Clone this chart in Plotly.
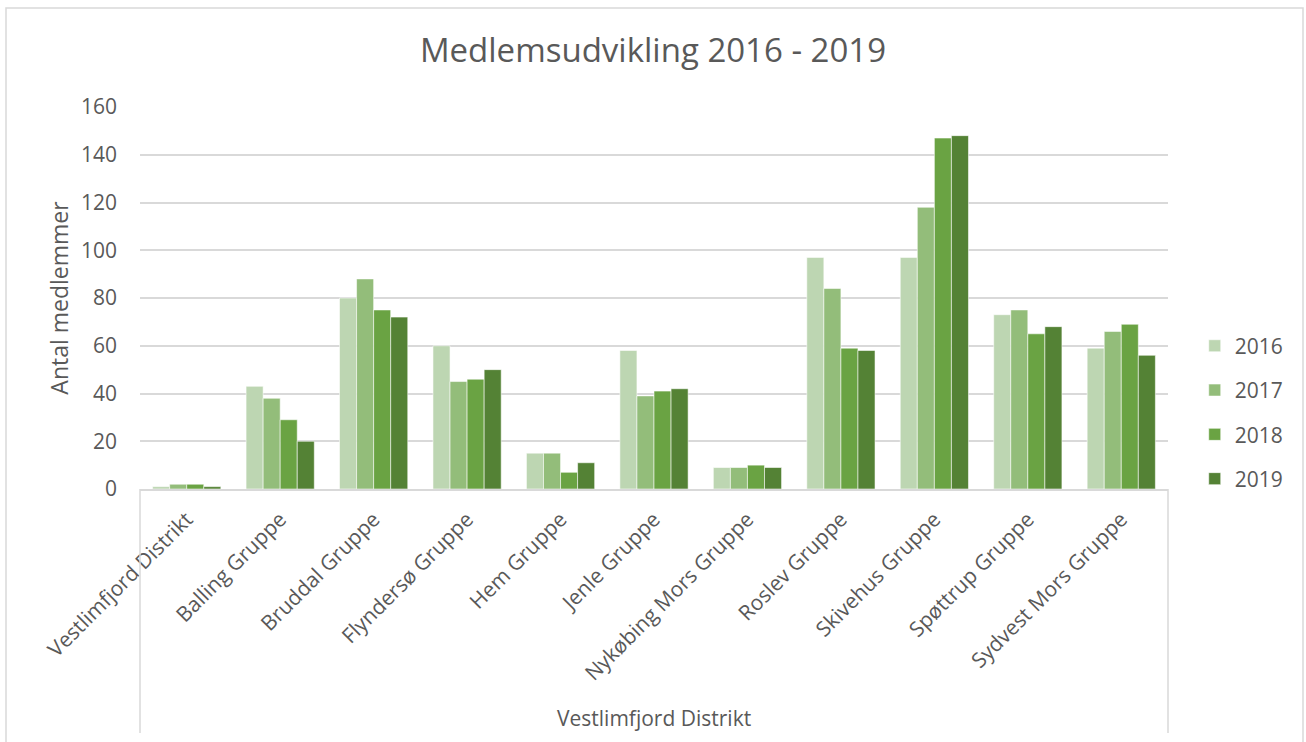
import plotly.graph_objects as go

CATEGORIES = [
    "Vestlimfjord Distrikt",
    "Balling Gruppe",
    "Bruddal Gruppe",
    "Flyndersø Gruppe",
    "Hem Gruppe",
    "Jenle Gruppe",
    "Nykøbing Mors Gruppe",
    "Roslev Gruppe",
    "Skivehus Gruppe",
    "Spøttrup Gruppe",
    "Sydvest Mors Gruppe",
]
YEARS = ["2016", "2017", "2018", "2019"]
VALUES_2016 = [1, 43, 80, 60, 15, 58, 9, 97, 97, 73, 59]
VALUES_2017 = [2, 38, 88, 45, 15, 39, 9, 84, 118, 75, 66]
VALUES_2018 = [2, 29, 75, 46, 7, 41, 10, 59, 147, 65, 69]
VALUES_2019 = [1, 20, 72, 50, 11, 42, 9, 58, 148, 68, 56]
Y_TICKS = [0, 20, 40, 60, 80, 100, 120, 140, 160]
GROUP_LABEL = "Vestlimfjord Distrikt"
TITLE = "Medlemsudvikling 2016 - 2019"
Y_TITLE = "Antal medlemmer"

SERIES = [VALUES_2016, VALUES_2017, VALUES_2018, VALUES_2019]
COLORS = ["#BDD6B2", "#93BD7A", "#6AA343", "#548235"]
TEXT_COLOR = "#595959"
GRID_COLOR = "#D9D9D9"
FONT = "Open Sans"

fig = go.Figure()
for year, vals, color in zip(YEARS, SERIES, COLORS):
    fig.add_trace(
        go.Bar(
            x=CATEGORIES,
            y=vals,
            name=year,
            legendgroup=year,
            marker=dict(color=color, line=dict(color="rgba(255,255,255,0.55)", width=1)),
        )
    )

fig.update_layout(
    width=1306,
    height=742,
    barmode="group",
    bargap=0.27,
    bargroupgap=0,
    paper_bgcolor="white",
    plot_bgcolor="white",
    font=dict(family=FONT, color=TEXT_COLOR, size=20),
    margin=dict(l=140, r=138, t=107, b=253),
    title=dict(
        text=TITLE,
        x=0.5,
        xanchor="center",
        y=(742 - 50) / 742,
        yanchor="middle",
        font=dict(size=33, color=TEXT_COLOR, family=FONT),
    ),
    legend=dict(
        x=1.026,
        xanchor="left",
        y=0.2,
        yanchor="middle",
        font=dict(size=21, color=TEXT_COLOR),
        tracegroupgap=14,
        itemwidth=30,
        bgcolor="rgba(0,0,0,0)",
    ),
    showlegend=True,
)

fig.update_xaxes(
    tickangle=-45,
    tickfont=dict(size=21, color=TEXT_COLOR),
    showline=True,
    linecolor=GRID_COLOR,
    linewidth=1.5,
    showgrid=False,
    ticks="",
    ticklabelstandoff=8,
)
fig.update_yaxes(
    range=[0, 160],
    tickvals=Y_TICKS,
    tickfont=dict(size=21, color=TEXT_COLOR),
    showgrid=True,
    gridcolor=GRID_COLOR,
    gridwidth=1.5,
    zeroline=False,
    showline=False,
    ticks="",
    ticklabelstandoff=22,
    title=dict(text=Y_TITLE, font=dict(size=23, color=TEXT_COLOR), standoff=5),
)

plot_h = 742 - 107 - 253
plot_w = 1306 - 140 - 138


def px_y(py):
    return (742 - 253 - py) / plot_h


def px_x(px):
    return (px - 140) / plot_w


# multi-level category axis dividers and outer chart border
for xd in (0, 1):
    fig.add_shape(
        type="line",
        xref="x domain",
        yref="paper",
        x0=xd,
        x1=xd,
        y0=0,
        y1=px_y(733),
        line=dict(color=GRID_COLOR, width=1.5),
    )
fig.add_shape(
    type="rect",
    xref="paper",
    yref="paper",
    x0=px_x(6),
    x1=px_x(1303),
    y0=px_y(760),
    y1=px_y(8),
    line=dict(color=GRID_COLOR, width=1.5),
    fillcolor="rgba(0,0,0,0)",
    layer="below",
)
fig.add_annotation(
    text=GROUP_LABEL,
    xref="paper",
    yref="paper",
    x=0.5,
    y=px_y(718),
    xanchor="center",
    yanchor="middle",
    showarrow=False,
    font=dict(size=21, color=TEXT_COLOR),
)

# drop the default page margin so the figure sits at the window's top-left
fig.write_html(
    "out.html",
    config={"displayModeBar": False},
    post_script="document.body.style.margin = '0';",
)
